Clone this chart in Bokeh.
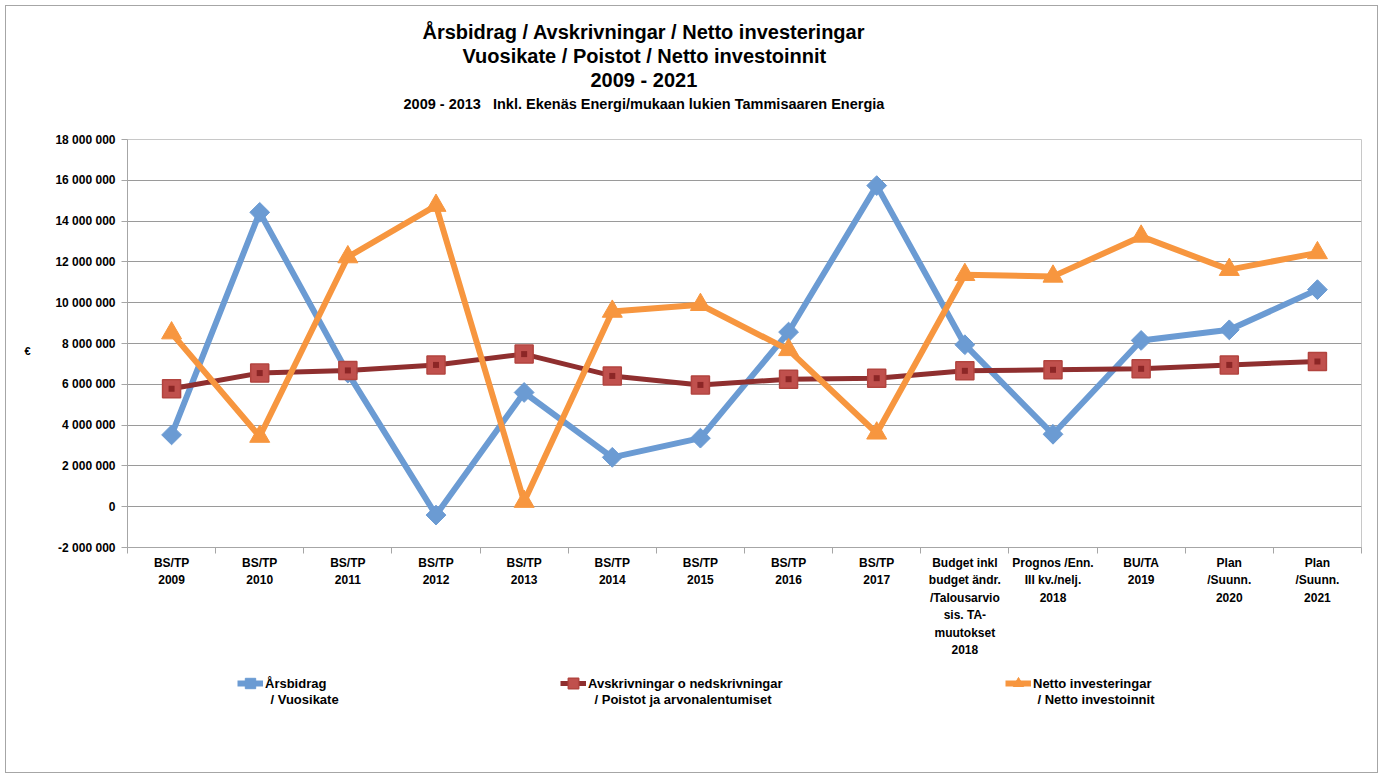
from math import pi
from bokeh.plotting import figure
from bokeh.layouts import column
from bokeh.models import FixedTicker, Legend, LegendItem, Range1d, Title, LinearAxis, Label
from bokeh.embed import file_html
from bokeh.resources import INLINE

# ---------------- data ----------------
categories = [
    "BS/TP\n2009", "BS/TP\n2010", "BS/TP\n2011", "BS/TP\n2012", "BS/TP\n2013",
    "BS/TP\n2014", "BS/TP\n2015", "BS/TP\n2016", "BS/TP\n2017",
    "Budget inkl\nbudget ändr.\n/Talousarvio\nsis. TA-\nmuutokset\n2018",
    "Prognos /Enn.\nIII kv./nelj.\n2018",
    "BU/TA\n2019", "Plan\n/Suunn.\n2020", "Plan\n/Suunn.\n2021",
]
arsbidrag = [3520000, 14430000, 6550000, -410000, 5600000, 2420000, 3360000,
             8560000, 15740000, 7940000, 3550000, 8150000, 8670000, 10640000]
avskrivningar = [5780000, 6550000, 6680000, 6950000, 7480000, 6410000, 5970000,
                 6250000, 6300000, 6660000, 6710000, 6760000, 6950000, 7120000]
netto_investeringar = [8510000, 3440000, 12240000, 14760000, 250000, 9570000, 9900000,
                       7690000, 3600000, 11370000, 11290000, 13250000, 11620000, 12440000]
y_ticks = [-2000000, 0, 2000000, 4000000, 6000000, 8000000, 10000000,
           12000000, 14000000, 16000000, 18000000]
y_tick_labels = ["-2 000 000", "0", "2 000 000", "4 000 000", "6 000 000", "8 000 000",
                 "10 000 000", "12 000 000", "14 000 000", "16 000 000", "18 000 000"]
series_first = ["Årsbidrag", "Avskrivningar o nedskrivningar", "Netto investeringar"]
series_second = ["/ Vuosikate", "/ Poistot ja arvonalentumiset", "/ Netto investoinnit"]
title_lines = ["Årsbidrag / Avskrivningar / Netto investeringar",
               "Vuosikate / Poistot / Netto investoinnit",
               "2009 - 2021"]
subtitle = "2009 - 2013\u00a0\u00a0 Inkl. Ekenäs Energi/mukaan lukien Tammisaaren Energia"
unit_label = "€"
unit_label_at = 7640000

FONT = "Liberation Sans"
BLUE = "#6b9bd3"
RED_LINE = "#8f2f2f"
RED_FILL = "#c0504d"
RED_EDGE = "#b2443f"
RED_DARK = "#8c2626"
ORANGE = "#f7963f"
GRID = "#9a9a9a"
AXIS = "#a6a6a6"

n = len(categories)
x = [i + 0.5 for i in range(n)]

FRAME_W = 1234
p = figure(frame_width=FRAME_W, frame_height=408,
           x_range=Range1d(0, n), y_range=Range1d(-2000000, 18000000),
           output_backend="svg", toolbar_location=None,
           min_border_left=121, min_border_right=16, min_border_top=133, min_border_bottom=120)
p.background_fill_color = "white"
p.border_fill_color = "white"
p.outline_line_color = "#c8c8c8"

# x axis: labels at category centres, tick marks between categories
p.xaxis.ticker = FixedTicker(ticks=x, minor_ticks=list(range(n + 1)))
p.xaxis.major_label_overrides = {x[i]: categories[i] for i in range(n)}
p.xaxis.major_tick_line_color = None
p.xaxis.major_tick_out = 0
p.xaxis.major_tick_in = 0
p.xaxis.minor_tick_line_color = AXIS
p.xaxis.minor_tick_out = 6
p.xaxis.minor_tick_in = 0
p.xaxis.axis_line_color = AXIS
p.xaxis.major_label_standoff = 2
p.xaxis.major_label_text_font = FONT
p.xaxis.major_label_text_font_size = "12px"
p.xaxis.major_label_text_font_style = "bold"
p.xaxis.major_label_text_color = "black"
p.xaxis.major_label_text_line_height = 1.25

# y axis
p.yaxis.ticker = FixedTicker(ticks=y_ticks, minor_ticks=[])
p.yaxis.major_label_overrides = {y_ticks[i]: y_tick_labels[i] for i in range(len(y_ticks))}
p.yaxis.major_tick_out = 6
p.yaxis.major_tick_in = 0
p.yaxis.major_tick_line_color = AXIS
p.yaxis.minor_tick_line_color = None
p.yaxis.axis_line_color = AXIS
p.yaxis.major_label_standoff = 6
p.yaxis.major_label_text_font = FONT
p.yaxis.major_label_text_font_size = "12px"
p.yaxis.major_label_text_font_style = "bold"
p.yaxis.major_label_text_color = "black"

# unit label "€" as an outer left axis with one horizontal label
unit_axis = LinearAxis(ticker=FixedTicker(ticks=[unit_label_at], minor_ticks=[]),
                       major_label_overrides={unit_label_at: unit_label},
                       axis_line_color=None, major_tick_line_color=None,
                       minor_tick_line_color=None, major_tick_out=0, major_tick_in=0,
                       major_label_standoff=22, major_label_text_font=FONT,
                       major_label_text_font_size="11px", major_label_text_font_style="bold",
                       major_label_text_color="black")
p.add_layout(unit_axis, "left")

p.xgrid.visible = False
p.ygrid.ticker = FixedTicker(ticks=y_ticks, minor_ticks=[])
p.ygrid.grid_line_color = GRID
p.ygrid.grid_line_width = 1

# series (draw order: blue, red, orange)
p.line(x, arsbidrag, line_width=6, line_color=BLUE, line_join="round")
p.scatter(x, arsbidrag, marker="square", angle=pi / 4, size=14,
          fill_color=BLUE, line_color=BLUE, line_width=1)
p.line(x, avskrivningar, line_width=5, line_color=RED_LINE, line_join="round")
p.scatter(x, avskrivningar, marker="square", size=18,
          fill_color=RED_FILL, line_color=RED_EDGE, line_width=1.5)
p.scatter(x, avskrivningar, marker="square", size=6, fill_color=RED_DARK, line_color=None)
p.line(x, netto_investeringar, line_width=6, line_color=ORANGE, line_join="round")
p.scatter(x, netto_investeringar, marker="triangle", size=20,
          fill_color=ORANGE, line_color=ORANGE, line_width=1)

# titles (first added sits nearest the plot); a blank spacer keeps the gap to the frame
p.add_layout(Title(text="\u00a0", standoff=13, text_font=FONT, text_font_size="10px"), "above")
p.add_layout(Title(text=subtitle, align="left", offset=276, standoff=4,
                   text_font=FONT, text_font_size="14.5px", text_font_style="bold",
                   text_color="black"), "above")
for line, off, so in zip(title_lines[::-1], [463, 335, 295], [1, 0, 0]):
    p.add_layout(Title(text=line, align="left", offset=off, standoff=so,
                       text_font=FONT, text_font_size="20px", text_font_style="bold",
                       text_color="black"), "above")

# ---------------- legend strip (aligned with the plot frame, 1 unit = 1 pixel) ----------------
LH = 105
lf = figure(frame_width=FRAME_W, height=LH, x_range=Range1d(0, FRAME_W), y_range=Range1d(0, LH),
            output_backend="svg", toolbar_location=None, x_axis_type=None, y_axis_type=None,
            min_border_left=121, min_border_right=16, min_border_top=0, min_border_bottom=0)
lf.grid.visible = False
lf.outline_line_color = None
lf.background_fill_color = "white"
lf.border_fill_color = "white"
# the legend's own renderers use a range that keeps their data out of view
lf.extra_y_ranges = {"hidden": Range1d(50000000, 60000000)}

lb_line = lf.line(x, arsbidrag, line_width=6, line_color=BLUE, y_range_name="hidden")
lb_mark = lf.scatter(x, arsbidrag, marker="square", angle=pi / 4,
                     fill_color=BLUE, line_color=BLUE, y_range_name="hidden")
lr_line = lf.line(x, avskrivningar, line_width=5, line_color=RED_LINE, y_range_name="hidden")
lr_mark = lf.scatter(x, avskrivningar, marker="square", fill_color=RED_FILL,
                     line_color=RED_EDGE, line_width=1.5, y_range_name="hidden")
lo_line = lf.line(x, netto_investeringar, line_width=6, line_color=ORANGE,
                  y_range_name="hidden")
lo_mark = lf.scatter(x, netto_investeringar, marker="triangle",
                     fill_color=ORANGE, line_color=ORANGE, y_range_name="hidden")

legend_rends = [[lb_line, lb_mark], [lr_line, lr_mark], [lo_line, lo_mark]]
legend_x = [110, 433, 878]
second_x = [143, 467, 910]
for first, second, rends, lx, sx in zip(series_first, series_second, legend_rends,
                                        legend_x, second_x):
    leg = Legend(items=[LegendItem(label=first, renderers=rends, index=0)], location=(lx, 75),
                 orientation="horizontal", border_line_color=None, background_fill_alpha=0,
                 padding=0, margin=0, spacing=0, glyph_width=26, glyph_height=28,
                 label_standoff=2, label_text_font=FONT, label_text_font_size="13px",
                 label_text_font_style="bold", label_text_color="black")
    lf.add_layout(leg)
    lf.add_layout(Label(x=sx, y=73, text=second, text_font=FONT, text_font_size="13px",
                        text_font_style="bold", text_baseline="middle", text_align="left",
                        text_color="black"))

layout = column(p, lf, spacing=0,
                styles={"border": "1px solid #a6a6a6", "margin-left": "5px", "margin-top": "5px"})

open("out.html", "w").write(file_html(layout, INLINE))
